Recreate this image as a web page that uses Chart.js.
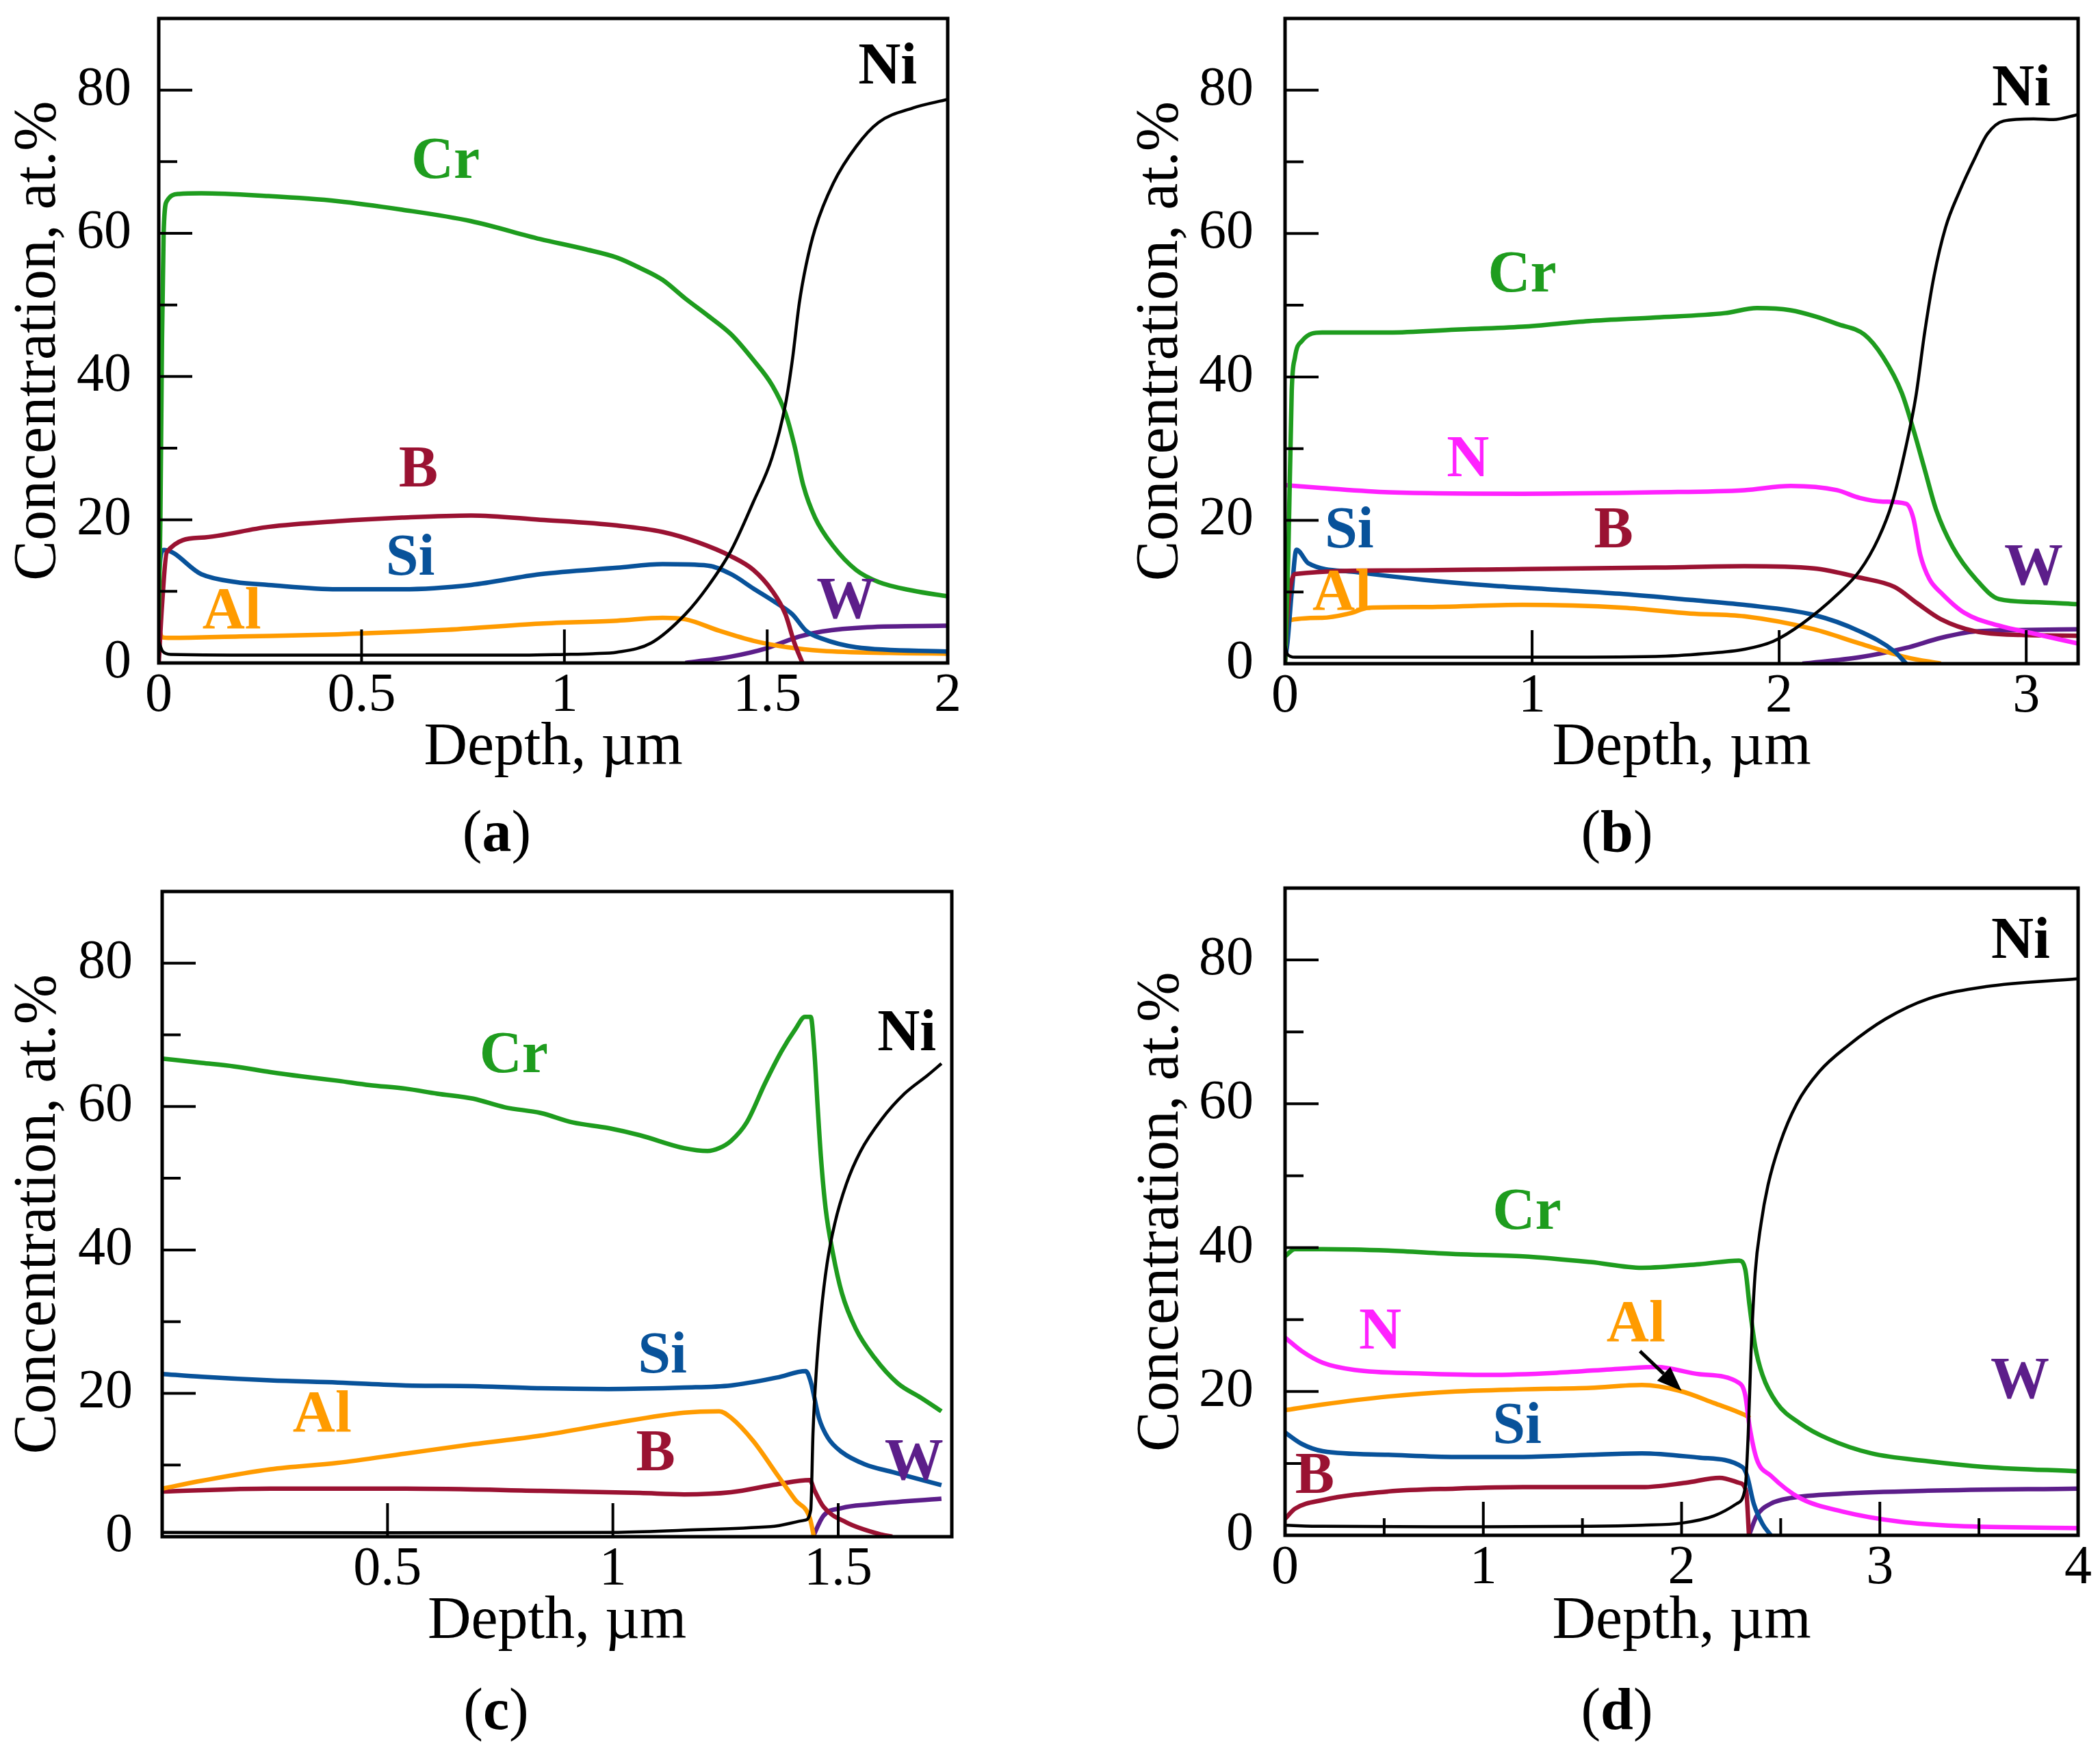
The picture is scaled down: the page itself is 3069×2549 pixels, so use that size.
<!DOCTYPE html>
<html>
<head>
<meta charset="utf-8">
<script src="https://cdn.jsdelivr.net/npm/chart.js@4.4.1/dist/chart.umd.min.js"></script>
<style>
  body { margin: 0; background: #fff; }
  #page { position: relative; width: 3069px; height: 2549px; overflow: hidden; }
  canvas { position: absolute; }
  .plab { position: absolute; font: 86px "Liberation Serif", "Times New Roman", serif; line-height: 1; transform: translate(-50%, -50%); white-space: nowrap; }
</style>
<title>Concentration depth profiles</title>
</head>
<body>
<div id="page">
  <canvas id="pa" width="1540" height="1223" style="left:0px;top:-63px"></canvas>
  <canvas id="pb" width="1429" height="1223" style="left:1640px;top:-63px"></canvas>
  <canvas id="pc" width="1540" height="1217" style="left:0px;top:1213px"></canvas>
  <canvas id="pd" width="1428" height="1222" style="left:1641px;top:1208px"></canvas>
  <div class="plab" style="left:726px;top:1215px">(<b>a</b>)</div>
  <div class="plab" style="left:2363px;top:1215px">(<b>b</b>)</div>
  <div class="plab" style="left:725px;top:2498px">(<b>c</b>)</div>
  <div class="plab" style="left:2363px;top:2498px">(<b>d</b>)</div>
</div>

<script>
// ---- panel (a) ----
var aCrX = [0, 0.004, 0.008, 0.012, 0.02, 0.05, 0.105, 0.27, 0.44, 0.60, 0.77, 0.94, 1.05, 1.13, 1.185, 1.242, 1.298, 1.354, 1.411, 1.466, 1.512, 1.545, 1.567, 1.589, 1.618, 1.663, 1.719, 1.775, 1.859, 1.945];
var aCrY = [6, 20, 45, 60, 64.5, 65.5, 65.6, 65.2, 64.5, 63.3, 61.7, 59.2, 57.8, 56.6, 55.2, 53.5, 50.9, 48.5, 45.9, 42.3, 38.8, 34.9, 30.4, 24.8, 20.3, 16.3, 13.0, 11.3, 10.1, 9.3];
var aNiX = [0, 0.01, 0.03, 0.3, 0.6, 0.9, 1.0, 1.07, 1.13, 1.214, 1.298, 1.354, 1.411, 1.466, 1.512, 1.545, 1.562, 1.579, 1.596, 1.618, 1.663, 1.719, 1.775, 1.859, 1.945];
var aNiY = [3, 1.6, 1.2, 1.1, 1.1, 1.1, 1.2, 1.3, 1.5, 2.8, 6.8, 10.7, 15.7, 22.5, 28.7, 36.1, 42.3, 50.2, 55.6, 60.6, 67.0, 72.1, 75.5, 77.5, 78.7];
var aBX = [0, 0.008, 0.02, 0.105, 0.27, 0.44, 0.60, 0.77, 0.94, 1.13, 1.242, 1.327, 1.411, 1.466, 1.512, 1.545, 1.567, 1.587];
var aBY = [0, 8, 15.5, 17.5, 19, 19.8, 20.3, 20.6, 20, 19.2, 18.3, 16.9, 14.9, 13, 10.1, 6.8, 2.8, 0];
var aSiX = [0, 0.005, 0.013, 0.105, 0.19, 0.27, 0.44, 0.60, 0.77, 0.94, 1.13, 1.242, 1.354, 1.411, 1.466, 1.522, 1.562, 1.596, 1.635, 1.719, 1.945];
var aSiY = [12, 15, 15.8, 12.4, 11.3, 10.9, 10.3, 10.3, 10.9, 12.4, 13.3, 13.8, 13.6, 12.4, 10.4, 8.4, 6.8, 4.5, 3.4, 2.2, 1.6];
var aAlX = [0, 0.008, 0.03, 0.2, 0.44, 0.7, 0.94, 1.13, 1.242, 1.298, 1.382, 1.466, 1.55, 1.635, 1.80, 1.945];
var aAlY = [5, 3.6, 3.5, 3.7, 4.0, 4.6, 5.5, 5.9, 6.3, 6.1, 4.5, 3.1, 2.2, 1.7, 1.4, 1.3];
var aWX = [1.298, 1.411, 1.495, 1.579, 1.635, 1.747, 1.945];
var aWY = [0, 0.9, 2.0, 3.7, 4.4, 5.0, 5.2];
var aTickVals = [0, 0.5, 1, 1.5, 1.945];
var aTickText = ['0', '0.5', '1', '1.5', '2'];
var aTags = ['Ni', 'Cr', 'B', 'Si', 'Al', 'W'];
var aTagX = [1.797, 0.707, 0.64, 0.62, 0.18, 1.694];
var aTagY = [83.0, 69.9, 26.8, 14.4, 7, 8.4];

// ---- panel (b) ----
var bCrX = [0, 0.013, 0.027, 0.04, 0.068, 0.15, 0.42, 0.69, 0.96, 1.23, 1.50, 1.78, 1.91, 2.047, 2.15, 2.234, 2.345, 2.42, 2.496, 2.543, 2.589, 2.636, 2.702, 2.796, 2.89, 3.03, 3.21];
var bCrY = [0, 14.8, 38, 42.7, 45, 46.2, 46.2, 46.6, 47, 47.8, 48.3, 48.9, 49.6, 49.3, 48.4, 47.4, 45.9, 42.8, 37.8, 32.7, 27.1, 21.4, 16.3, 11.8, 9.0, 8.6, 8.3];
var bNiX = [0, 0.01, 0.04, 0.5, 1.0, 1.50, 1.70, 1.859, 1.975, 2.094, 2.234, 2.327, 2.402, 2.458, 2.514, 2.553, 2.589, 2.627, 2.674, 2.729, 2.796, 2.843, 2.908, 3.03, 3.11, 3.21];
var bNiY = [2.5, 1.3, 0.9, 0.9, 0.9, 1.0, 1.4, 2.0, 3.1, 5.6, 9.6, 13, 17.5, 22.5, 30.4, 37.2, 46.2, 54.1, 60.9, 65.8, 70.8, 73.9, 75.7, 76.0, 75.9, 76.6];
var bNX = [0, 0.15, 0.42, 0.96, 1.5, 1.859, 2.047, 2.234, 2.327, 2.42, 2.514, 2.543, 2.571, 2.608, 2.655, 2.749, 2.89, 3.03, 3.21];
var bNY = [24.9, 24.5, 23.9, 23.7, 23.9, 24.2, 24.8, 24.2, 23.1, 22.6, 22.3, 20.3, 15.2, 11.8, 9.9, 7.1, 5.3, 4.2, 2.8];
var bBX = [0, 0.008, 0.04, 0.42, 0.96, 1.5, 1.859, 2.14, 2.327, 2.467, 2.56, 2.655, 2.796, 2.98, 3.21];
var bBY = [0, 6, 12.5, 13, 13.2, 13.4, 13.6, 13.3, 12.0, 10.7, 8.4, 6.2, 4.5, 4.0, 3.9];
var bSiX = [0, 0.01, 0.027, 0.046, 0.095, 0.28, 0.56, 0.83, 1.10, 1.37, 1.64, 1.859, 2.14, 2.327, 2.467, 2.514];
var bSiY = [0.5, 3, 10, 15.9, 14, 12.8, 11.7, 10.9, 10.3, 9.7, 8.9, 8.2, 6.8, 4.5, 1.7, 0];
var bAlX = [0, 0.01, 0.15, 0.26, 0.34, 0.56, 0.96, 1.37, 1.64, 1.859, 2.14, 2.327, 2.514, 2.655];
var bAlY = [3, 6, 6.4, 7, 7.8, 7.9, 8.2, 7.8, 7, 6.6, 4.8, 2.8, 0.9, 0];
var bWX = [2.094, 2.327, 2.514, 2.655, 2.796, 3.0, 3.21];
var bWY = [0, 0.9, 2.2, 3.6, 4.5, 4.7, 4.8];
var bTickVals = [0, 1, 2, 3];
var bTickText = ['0', '1', '2', '3'];
var bTags = ['Ni', 'Cr', 'N', 'Si', 'B', 'Al', 'W'];
var bTagX = [2.98, 0.96, 0.74, 0.26, 1.33, 0.23, 3.03];
var bTagY = [80, 54, 28.3, 18.3, 18.3, 9.7, 13.2];

// ---- panel (c) ----
var cCrX = [0, 0.088, 0.16, 0.24, 0.31, 0.39, 0.46, 0.54, 0.61, 0.69, 0.76, 0.84, 0.91, 0.99, 1.06, 1.158, 1.21, 1.236, 1.262, 1.297, 1.338, 1.374, 1.405, 1.426, 1.439, 1.447, 1.455, 1.462, 1.472, 1.488, 1.508, 1.539, 1.58, 1.632, 1.683, 1.729];
var cCrY = [66.7, 66.1, 65.6, 64.8, 64.2, 63.6, 63, 62.5, 61.8, 61.1, 59.9, 59.1, 57.8, 57, 56, 54.2, 53.8, 54.2, 55.2, 57.8, 63.3, 67.7, 70.8, 72.5, 72.5, 67.7, 59.3, 52.6, 45.8, 39.6, 34, 29, 25, 21.4, 19.4, 17.5];
var cNiX = [0, 0.5, 1.0, 1.158, 1.35, 1.426, 1.439, 1.444, 1.451, 1.462, 1.475, 1.492, 1.518, 1.549, 1.596, 1.647, 1.699, 1.729];
var cNiY = [0.6, 0.55, 0.6, 0.9, 1.4, 2.3, 3.7, 14.4, 22.8, 31.2, 38, 43.6, 49.2, 53.7, 58.2, 61.8, 64.4, 66.0];
var cSiX = [0, 0.088, 0.24, 0.39, 0.54, 0.69, 0.84, 0.99, 1.158, 1.262, 1.364, 1.428, 1.439, 1.457, 1.477, 1.508, 1.559, 1.621, 1.729];
var cSiY = [22.7, 22.3, 21.8, 21.5, 21.1, 21, 20.7, 20.6, 20.8, 21.1, 22.2, 23.1, 21.6, 16.6, 13.8, 11.8, 10.1, 9.0, 7.2];
var cAlX = [0, 0.088, 0.24, 0.39, 0.54, 0.69, 0.84, 0.99, 1.158, 1.236, 1.262, 1.312, 1.364, 1.405, 1.437, 1.446];
var cAlY = [6.7, 7.8, 9.4, 10.3, 11.6, 12.9, 14.1, 15.7, 17.3, 17.5, 16.6, 13.3, 8.7, 5.1, 2.6, 0];
var cBX = [0, 0.24, 0.54, 0.84, 1.06, 1.158, 1.262, 1.364, 1.437, 1.447, 1.467, 1.518, 1.596, 1.62];
var cBY = [6.3, 6.7, 6.7, 6.4, 6.1, 5.9, 6.2, 7.3, 7.9, 6.5, 4.2, 2.0, 0.3, 0];
var cWX = [1.444, 1.467, 1.508, 1.57, 1.729];
var cWY = [0, 2.9, 4.0, 4.5, 5.3];
var cTickVals = [0.5, 1, 1.5];
var cTickText = ['0.5', '1', '1.5'];
var cTags = ['Cr', 'Ni', 'Si', 'Al', 'B', 'W'];
var cTagX = [0.78, 1.652, 1.11, 0.355, 1.095, 1.668];
var cTagY = [66.9, 70, 25, 16.8, 11.4, 10.1];

// ---- panel (d) ----
var dCrX = [0, 0.05, 0.19, 0.52, 0.86, 1.2, 1.54, 1.80, 2.09, 2.29, 2.321, 2.343, 2.371, 2.408, 2.48, 2.596, 2.741, 2.957, 3.244, 3.534, 4];
var dCrY = [38.8, 39.8, 39.8, 39.6, 39.1, 38.8, 38, 37.2, 37.7, 38.2, 37, 31.9, 26.3, 22.3, 18.4, 15.6, 13.4, 11.4, 10.3, 9.5, 8.9];
var dNiX = [0, 0.19, 0.86, 1.54, 1.80, 2.0, 2.163, 2.278, 2.321, 2.336, 2.35, 2.371, 2.40, 2.436, 2.495, 2.581, 2.695, 2.84, 3.029, 3.244, 3.534, 4];
var dNiY = [1.4, 1.25, 1.2, 1.25, 1.4, 1.7, 2.7, 4.4, 6.6, 14.0, 25.2, 36.4, 43.2, 48.7, 54.4, 60.0, 64.5, 68.1, 71.8, 74.6, 76.3, 77.4];
var dNX = [0, 0.085, 0.19, 0.35, 0.69, 1.03, 1.37, 1.71, 1.875, 2.09, 2.29, 2.321, 2.343, 2.379, 2.45, 2.596, 2.813, 3.1, 3.39, 4];
var dNY = [27.5, 25.6, 24, 23, 22.5, 22.3, 22.6, 23.2, 23.4, 22.4, 21.2, 19.5, 15.1, 10.6, 8.3, 5.2, 3.3, 1.9, 1.3, 1.0];
var dAlX = [0, 0.19, 0.52, 0.86, 1.2, 1.54, 1.80, 1.99, 2.163, 2.321, 2.345];
var dAlY = [17.4, 18.2, 19.3, 20, 20.3, 20.5, 20.9, 20.1, 18.4, 16.7, 16.3];
var dSiX = [0, 0.085, 0.19, 0.52, 0.86, 1.2, 1.54, 1.80, 2.09, 2.306, 2.33, 2.364, 2.408, 2.45];
var dSiY = [14.3, 12.7, 11.7, 11.2, 10.9, 10.9, 11.2, 11.4, 10.8, 9.5, 8.3, 4.4, 1.6, 0];
var dBX = [0, 0.05, 0.19, 0.52, 0.86, 1.2, 1.54, 1.80, 2.02, 2.192, 2.29, 2.326, 2.34];
var dBY = [2.3, 3.7, 4.9, 6.1, 6.5, 6.7, 6.7, 6.7, 7.3, 8.0, 7.3, 6.1, 0];
var dWX = [2.34, 2.379, 2.45, 2.553, 2.813, 3.244, 4];
var dWY = [0, 2.7, 4.4, 5.2, 5.8, 6.2, 6.5];
var dTickVals = [0, 1, 2, 3, 4];
var dTickText = ['0', '1', '2', '3', '4'];
var dTags = ['Ni', 'Cr', 'N', 'Al', 'Si', 'B', 'W'];
var dTagX = [3.71, 1.22, 0.48, 1.77, 1.17, 0.15, 3.707];
var dTagY = [82.4, 44.7, 28.1, 29.1, 15, 8, 21.2];
var dArrowX = [1.79, 2.0];
var dArrowY = [25.6, 20.1];

var yTickVals = [0, 20, 40, 60, 80];
var yMajor = [20, 40, 60, 80];
var yMinor = [10, 30, 50, 70];

var COL = { Cr: '#1e9c1e', Ni: '#000000', B: '#9a1232', Si: '#08529a', Al: '#ff9b00', W: '#5c1e8a', N: '#ff22ff' };
var SERIF = '"Liberation Serif", "Times New Roman", serif';

Chart.defaults.font.family = SERIF;
Chart.defaults.color = '#000';

function pts(xs, ys) {
	return xs.map(function (x, i) { return { x: x, y: ys[i] }; });
}

function line(name, xs, ys) {
	return {
		label: name,
		data: pts(xs, ys),
		borderColor: COL[name],
		borderWidth: name == 'Ni' ? 4.5 : 6.5,
		pointRadius: 0,
		cubicInterpolationMode: 'monotone',
		fill: false
	};
}

// frame, inward ticks, element names and the arrow
var deco = {
	id: 'deco',
	afterDatasetsDraw: function (chart, args, o) {
		var ctx = chart.ctx, a = chart.chartArea, sx = chart.scales.x, sy = chart.scales.y;
		ctx.save();
		ctx.strokeStyle = '#000';
		ctx.lineWidth = 4;
		ctx.beginPath();
		yMajor.forEach(function (v) { var p = sy.getPixelForValue(v); ctx.moveTo(a.left, p); ctx.lineTo(a.left + 49, p); });
		yMinor.forEach(function (v) { var p = sy.getPixelForValue(v); ctx.moveTo(a.left, p); ctx.lineTo(a.left + 27, p); });
		o.xMajor.forEach(function (v) { var p = sx.getPixelForValue(v); ctx.moveTo(p, a.bottom); ctx.lineTo(p, a.bottom - 49); });
		o.xMinor.forEach(function (v) { var p = sx.getPixelForValue(v); ctx.moveTo(p, a.bottom); ctx.lineTo(p, a.bottom - 25); });
		ctx.stroke();
		ctx.lineWidth = 5;
		ctx.strokeRect(a.left, a.top, a.right - a.left, a.bottom - a.top);

		ctx.font = 'bold 86px ' + SERIF;
		ctx.textAlign = 'center';
		ctx.textBaseline = 'middle';
		o.tags.forEach(function (t, i) {
			ctx.fillStyle = COL[t];
			ctx.fillText(t, sx.getPixelForValue(o.tagX[i]), sy.getPixelForValue(o.tagY[i]));
		});

		if (o.arrowX) {
			var x0 = sx.getPixelForValue(o.arrowX[0]), y0 = sy.getPixelForValue(o.arrowY[0]);
			var x1 = sx.getPixelForValue(o.arrowX[1]), y1 = sy.getPixelForValue(o.arrowY[1]);
			var ang = Math.atan2(y1 - y0, x1 - x0), hl = 36, hw = 14;
			var bx = x1 - hl * Math.cos(ang), by = y1 - hl * Math.sin(ang);
			ctx.strokeStyle = '#000';
			ctx.lineWidth = 5;
			ctx.beginPath(); ctx.moveTo(x0, y0); ctx.lineTo(bx, by); ctx.stroke();
			ctx.fillStyle = '#000';
			ctx.beginPath();
			ctx.moveTo(x1, y1);
			ctx.lineTo(bx + hw * Math.sin(ang), by - hw * Math.cos(ang));
			ctx.lineTo(bx - hw * Math.sin(ang), by + hw * Math.cos(ang));
			ctx.closePath(); ctx.fill();
		}
		ctx.restore();
	}
};

function makePanel(id, p) {
	new Chart(document.getElementById(id), {
		type: 'line',
		data: { datasets: p.series },
		plugins: [deco],
		options: {
			responsive: false,
			animation: false,
			devicePixelRatio: 1,
			events: [],
			layout: { padding: { left: 0, top: p.padTop, right: p.padRight, bottom: 0 } },
			plugins: {
				legend: { display: false },
				tooltip: { enabled: false },
				deco: { xMajor: p.xMajor, xMinor: p.xMinor, tags: p.tags, tagX: p.tagX, tagY: p.tagY, arrowX: p.arrowX, arrowY: p.arrowY }
			},
			scales: {
				x: {
					type: 'linear', min: p.xMin, max: p.xMax,
					afterBuildTicks: function (s) { s.ticks = p.tickVals.map(function (v) { return { value: v }; }); },
					ticks: {
						callback: function (v, i) { return p.tickText[i]; },
						font: { size: 80, lineHeight: 1 }, padding: 1, color: '#000', maxRotation: 0, autoSkip: false
					},
					grid: { display: false }, border: { display: false },
					title: { display: true, text: 'Depth, µm', color: '#000', font: { size: 88, lineHeight: 1.2 }, padding: { top: 0, bottom: p.titlePad } },
					afterFit: function (s) { s.height = p.xH; }
				},
				y: {
					type: 'linear', min: 0, max: 90,
					afterBuildTicks: function (s) { s.ticks = yTickVals.map(function (v) { return { value: v }; }); },
					ticks: { font: { size: 80, lineHeight: 1 }, padding: p.tickPad, color: '#000' },
					grid: { display: false }, border: { display: false },
					title: { display: true, text: 'Concentration, at.%', color: '#000', font: { size: 88, lineHeight: 1.2 }, padding: { top: 4, bottom: 0 } },
					afterFit: function (s) { s.width = p.yW; }
				}
			}
		}
	});
}

makePanel('pa', {
	series: [line('Ni', aNiX, aNiY), line('Cr', aCrX, aCrY), line('B', aBX, aBY), line('Si', aSiX, aSiY), line('Al', aAlX, aAlY), line('W', aWX, aWY)],
	xMin: 0, xMax: 1.945, tickVals: aTickVals, tickText: aTickText,
	xMajor: [0.5, 1, 1.5], xMinor: [],
	tags: aTags, tagX: aTagX, tagY: aTagY,
	padTop: 90, padRight: 155, yW: 232, xH: 191, titlePad: 13, tickPad: 32
});

makePanel('pb', {
	series: [line('Ni', bNiX, bNiY), line('Cr', bCrX, bCrY), line('N', bNX, bNY), line('B', bBX, bBY), line('Si', bSiX, bSiY), line('Al', bAlX, bAlY), line('W', bWX, bWY)],
	xMin: 0, xMax: 3.21, tickVals: bTickVals, tickText: bTickText,
	xMajor: [1, 2, 3], xMinor: [],
	tags: bTags, tagX: bTagX, tagY: bTagY,
	padTop: 90, padRight: 32, yW: 238, xH: 190, titlePad: 13, tickPad: 38
});

makePanel('pc', {
	series: [line('Ni', cNiX, cNiY), line('Cr', cCrX, cCrY), line('Si', cSiX, cSiY), line('Al', cAlX, cAlY), line('B', cBX, cBY), line('W', cWX, cWY)],
	xMin: 0, xMax: 1.752, tickVals: cTickVals, tickText: cTickText,
	xMajor: [0.5, 1, 1.5], xMinor: [],
	tags: cTags, tagX: cTagX, tagY: cTagY,
	padTop: 90, padRight: 149, yW: 237, xH: 184, titlePad: 6, tickPad: 35
});

makePanel('pd', {
	series: [line('Ni', dNiX, dNiY), line('Cr', dCrX, dCrY), line('N', dNX, dNY), line('Al', dAlX, dAlY), line('Si', dSiX, dSiY), line('B', dBX, dBY), line('W', dWX, dWY)],
	xMin: 0, xMax: 4, tickVals: dTickVals, tickText: dTickText,
	xMajor: [1, 2, 3], xMinor: [0.5, 1.5, 2.5, 3.5],
	tags: dTags, tagX: dTagX, tagY: dTagY, arrowX: dArrowX, arrowY: dArrowY,
	padTop: 90, padRight: 32, yW: 237, xH: 186, titlePad: 6, tickPad: 38
});
</script>
</body>
</html>
